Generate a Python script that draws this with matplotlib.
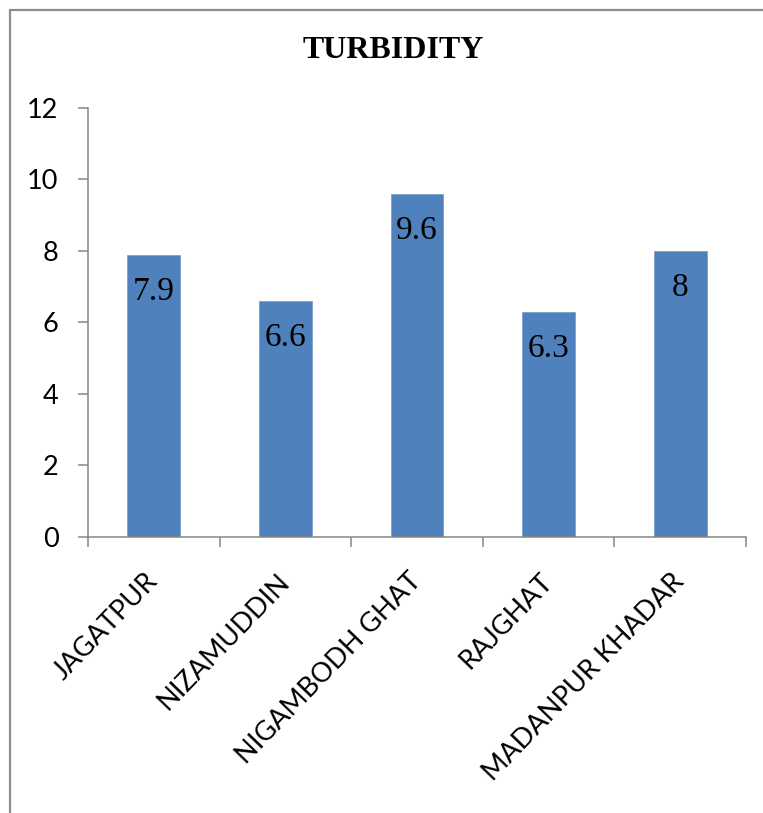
import matplotlib.pyplot as plt
from matplotlib.patches import Rectangle

sites = ["JAGATPUR", "NIZAMUDDIN", "NIGAMBODH GHAT", "RAJGHAT", "MADANPUR KHADAR"]
turbidity = [7.9, 6.6, 9.6, 6.3, 8]
value_labels = ["7.9", "6.6", "9.6", "6.3", "8"]
y_ticks = [0, 2, 4, 6, 8, 10, 12]

axis_grey = "#868686"

fig = plt.figure(figsize=(7.63, 8.13), dpi=100)
ax = fig.add_axes([0.1153, 0.3395, 0.8624, 0.5277])

x = list(range(len(sites)))
ax.bar(x, turbidity, width=0.4, color="#4F81BD", edgecolor="#7BA0CD", linewidth=0.6)

# wartosci w slupkach, troche pod gorna krawedzia
for xi, val, lab in zip(x, turbidity, value_labels):
    ax.annotate(lab, (xi, val), xytext=(0, -26.5), textcoords="offset points",
                ha="center", va="center", fontsize=24, family="Liberation Serif")

ax.set_xlim(-0.5, len(sites) - 0.5)
ax.set_ylim(0, 12)
ax.set_yticks(y_ticks)
ax.set_yticklabels([str(t) for t in y_ticks], fontsize=19.5, family="Lato")

ax.set_xticks(x)
ax.set_xticklabels(sites, rotation=46, ha="right", va="center", rotation_mode="anchor",
                   fontsize=19.5, family="Lato")
ax.set_xticks([i - 0.5 for i in range(len(sites) + 1)], minor=True)
ax.tick_params(axis="x", which="major", length=0, pad=29)
ax.tick_params(axis="x", which="minor", length=7.2, width=1.1, color=axis_grey, direction="out")
ax.tick_params(axis="y", length=7.2, width=1.1, color=axis_grey, direction="out", pad=14)

for s in ["top", "right"]:
    ax.spines[s].set_visible(False)
for s in ["left", "bottom"]:
    ax.spines[s].set_color(axis_grey)
    ax.spines[s].set_linewidth(1.1)

fig.text(393 / 763, 1 - 51 / 813, "TURBIDITY", ha="center", va="center",
         fontsize=23, fontweight="bold", family="Liberation Serif")

# ramka wykresu
fig.patches.append(Rectangle((10 / 763, -0.1), 1.2, 1 - 10 / 813 + 0.1,
                             transform=fig.transFigure, fill=False,
                             edgecolor="#8C8C8C", linewidth=1.6))

fig.savefig("out.png", dpi=100)
